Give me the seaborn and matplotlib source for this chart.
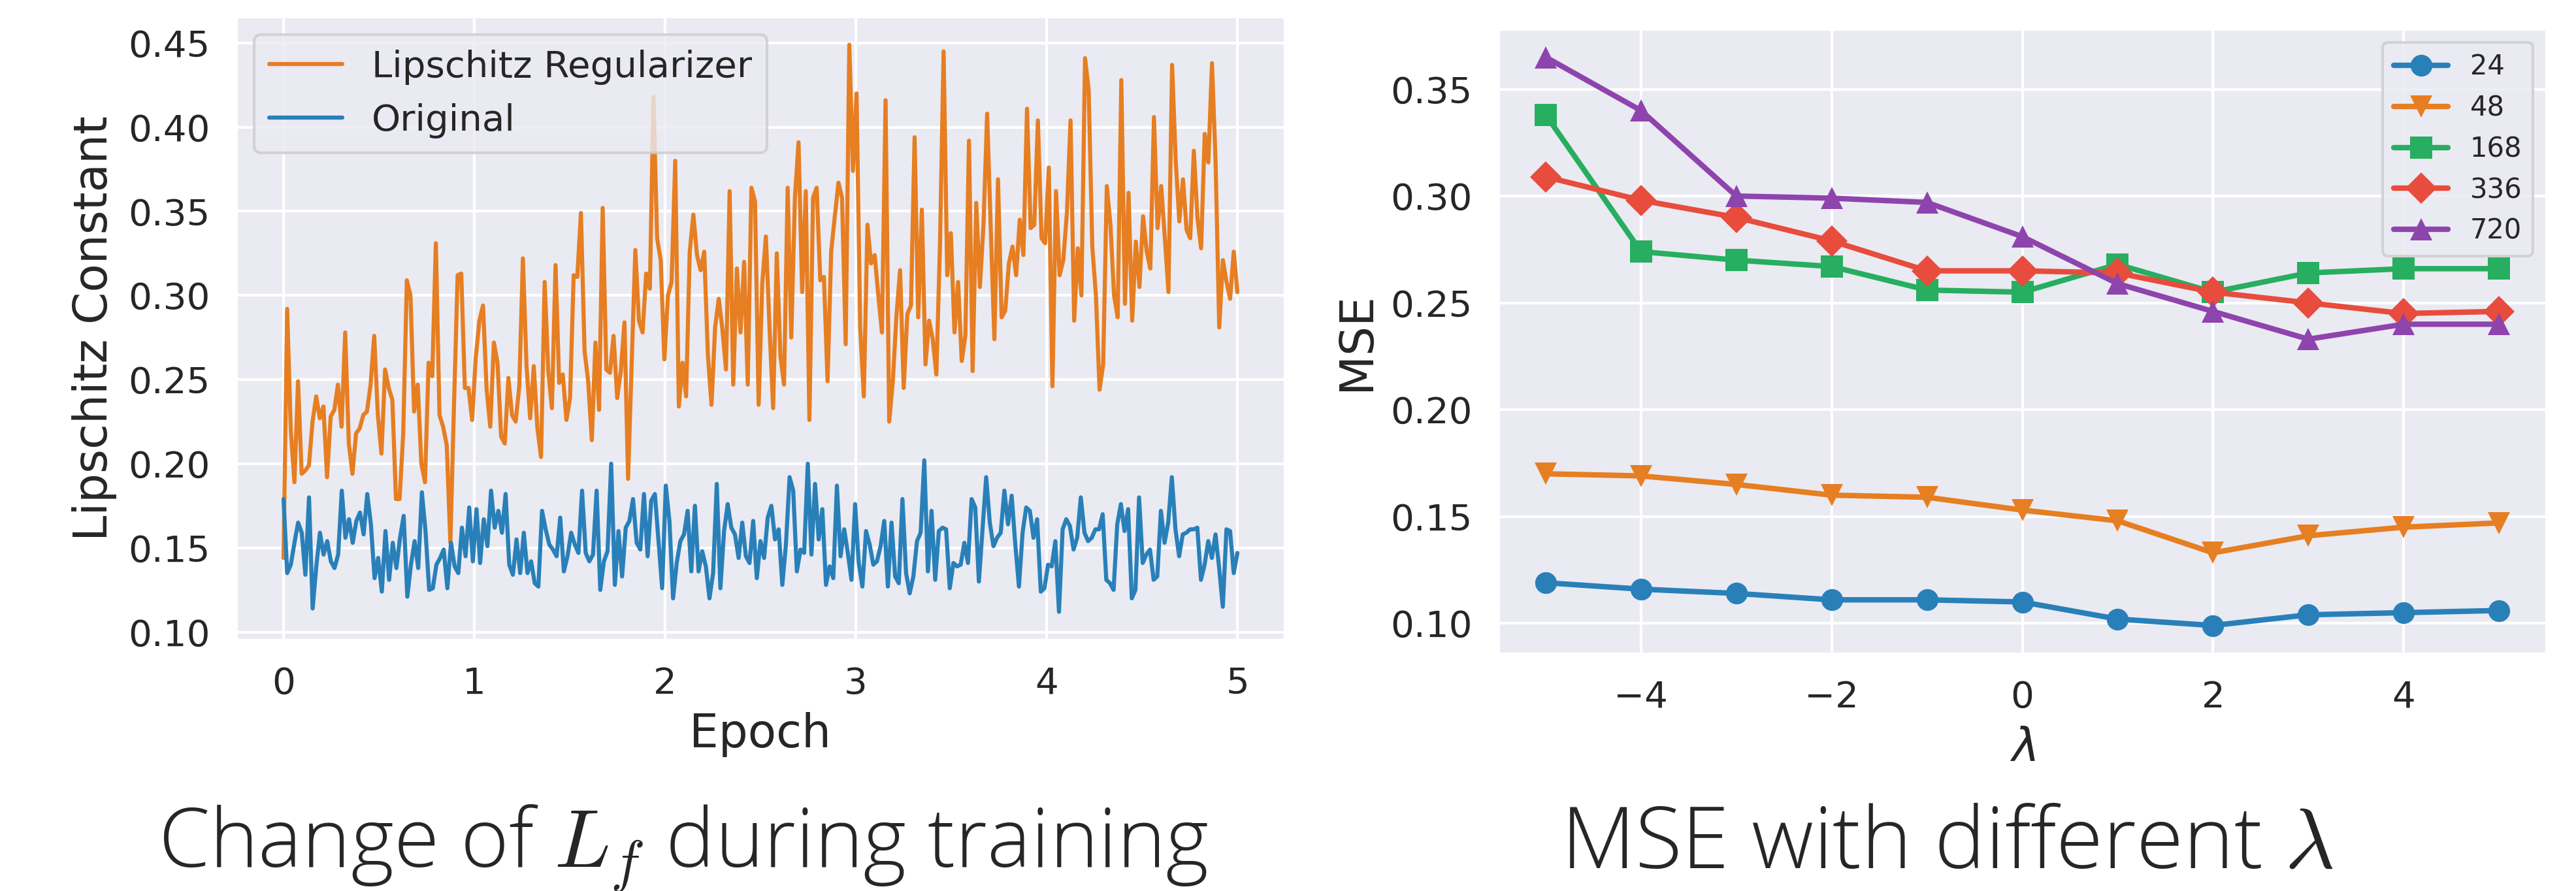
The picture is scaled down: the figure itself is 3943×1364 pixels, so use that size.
import numpy as np
import pandas as pd
import matplotlib
matplotlib.use("Agg")
import matplotlib.pyplot as plt
from matplotlib import font_manager
import seaborn as sns

# ---------------- data ----------------
lipschitz_reg = [
    0.144, 0.292, 0.220, 0.189, 0.249, 0.194, 0.196, 0.199, 0.225, 0.240,
    0.227, 0.234, 0.192, 0.228, 0.232, 0.247, 0.222, 0.278, 0.212, 0.194,
    0.218, 0.221, 0.229, 0.231, 0.247, 0.276, 0.229, 0.206, 0.256, 0.245,
    0.238, 0.179, 0.179, 0.218, 0.309, 0.300, 0.231, 0.247, 0.200, 0.189,
    0.260, 0.252, 0.331, 0.229, 0.222, 0.211, 0.153, 0.235, 0.312, 0.313,
    0.245, 0.245, 0.226, 0.263, 0.285, 0.294, 0.244, 0.222, 0.272, 0.260,
    0.216, 0.212, 0.251, 0.229, 0.225, 0.246, 0.322, 0.258, 0.227, 0.258,
    0.221, 0.204, 0.308, 0.255, 0.233, 0.318, 0.248, 0.253, 0.226, 0.239,
    0.312, 0.311, 0.349, 0.267, 0.249, 0.214, 0.272, 0.232, 0.352, 0.256,
    0.254, 0.276, 0.239, 0.255, 0.284, 0.191, 0.260, 0.327, 0.285, 0.278,
    0.313, 0.304, 0.418, 0.334, 0.321, 0.262, 0.300, 0.308, 0.380, 0.234,
    0.260, 0.240, 0.326, 0.348, 0.324, 0.315, 0.326, 0.265, 0.235, 0.281,
    0.298, 0.280, 0.256, 0.362, 0.247, 0.316, 0.278, 0.320, 0.247, 0.364,
    0.356, 0.235, 0.307, 0.335, 0.281, 0.233, 0.325, 0.264, 0.247, 0.364,
    0.275, 0.358, 0.391, 0.302, 0.362, 0.226, 0.358, 0.364, 0.309, 0.311,
    0.249, 0.326, 0.347, 0.367, 0.358, 0.271, 0.449, 0.374, 0.420, 0.281,
    0.240, 0.342, 0.319, 0.324, 0.300, 0.278, 0.416, 0.225, 0.249, 0.288,
    0.315, 0.245, 0.289, 0.294, 0.394, 0.287, 0.351, 0.259, 0.285, 0.274,
    0.253, 0.330, 0.445, 0.312, 0.337, 0.278, 0.308, 0.261, 0.276, 0.392,
    0.255, 0.355, 0.305, 0.342, 0.408, 0.340, 0.274, 0.369, 0.287, 0.291,
    0.319, 0.329, 0.312, 0.345, 0.324, 0.411, 0.340, 0.342, 0.404, 0.334,
    0.331, 0.376, 0.246, 0.362, 0.312, 0.321, 0.349, 0.404, 0.285, 0.328,
    0.300, 0.441, 0.422, 0.329, 0.300, 0.244, 0.259, 0.365, 0.342, 0.300,
    0.287, 0.428, 0.295, 0.361, 0.285, 0.332, 0.305, 0.347, 0.326, 0.316,
    0.406, 0.340, 0.365, 0.334, 0.302, 0.437, 0.380, 0.344, 0.369, 0.339,
    0.334, 0.386, 0.346, 0.328, 0.396, 0.379, 0.438, 0.379, 0.281, 0.321,
    0.308, 0.298, 0.326, 0.302,
]

original = [
    0.179, 0.135, 0.140, 0.153, 0.165, 0.159, 0.134, 0.180, 0.114, 0.139,
    0.159, 0.146, 0.154, 0.142, 0.138, 0.146, 0.184, 0.156, 0.167, 0.153,
    0.166, 0.171, 0.158, 0.182, 0.164, 0.132, 0.144, 0.124, 0.160, 0.131,
    0.153, 0.138, 0.156, 0.169, 0.121, 0.140, 0.154, 0.138, 0.183, 0.160,
    0.125, 0.126, 0.140, 0.144, 0.149, 0.126, 0.153, 0.139, 0.135, 0.162,
    0.145, 0.174, 0.142, 0.173, 0.141, 0.167, 0.151, 0.184, 0.162, 0.172,
    0.159, 0.182, 0.140, 0.134, 0.155, 0.135, 0.159, 0.135, 0.142, 0.129,
    0.127, 0.172, 0.161, 0.152, 0.149, 0.145, 0.168, 0.136, 0.145, 0.159,
    0.152, 0.147, 0.184, 0.147, 0.142, 0.146, 0.184, 0.125, 0.142, 0.148,
    0.200, 0.128, 0.160, 0.133, 0.162, 0.166, 0.179, 0.153, 0.149, 0.182,
    0.145, 0.178, 0.182, 0.154, 0.126, 0.187, 0.166, 0.120, 0.141, 0.154,
    0.158, 0.172, 0.136, 0.175, 0.136, 0.148, 0.139, 0.120, 0.135, 0.188,
    0.126, 0.160, 0.176, 0.162, 0.158, 0.144, 0.165, 0.145, 0.141, 0.166,
    0.132, 0.154, 0.144, 0.168, 0.175, 0.155, 0.161, 0.128, 0.152, 0.192,
    0.184, 0.136, 0.149, 0.147, 0.200, 0.146, 0.188, 0.155, 0.173, 0.128,
    0.139, 0.132, 0.187, 0.145, 0.161, 0.147, 0.131, 0.176, 0.141, 0.127,
    0.160, 0.152, 0.140, 0.142, 0.151, 0.166, 0.127, 0.165, 0.133, 0.129,
    0.179, 0.135, 0.123, 0.133, 0.154, 0.159, 0.202, 0.136, 0.172, 0.131,
    0.160, 0.162, 0.161, 0.126, 0.141, 0.139, 0.140, 0.153, 0.141, 0.179,
    0.174, 0.130, 0.161, 0.192, 0.165, 0.151, 0.156, 0.159, 0.184, 0.164,
    0.181, 0.152, 0.127, 0.159, 0.174, 0.172, 0.156, 0.167, 0.124, 0.126,
    0.140, 0.139, 0.154, 0.112, 0.161, 0.167, 0.163, 0.149, 0.156, 0.180,
    0.159, 0.154, 0.156, 0.161, 0.161, 0.170, 0.131, 0.129, 0.125, 0.164,
    0.176, 0.160, 0.173, 0.120, 0.125, 0.180, 0.141, 0.146, 0.149, 0.131,
    0.133, 0.172, 0.153, 0.165, 0.192, 0.161, 0.145, 0.158, 0.159, 0.161,
    0.161, 0.162, 0.131, 0.140, 0.154, 0.144, 0.158, 0.138, 0.115, 0.161,
    0.160, 0.135, 0.147,
]
n_epochs = 5
series_names = ["Lipschitz Regularizer", "Original"]

lambdas = [-5, -4, -3, -2, -1, 0, 1, 2, 3, 4, 5]
horizons = ["24", "48", "168", "336", "720"]
mse_24 = [0.119, 0.116, 0.114, 0.111, 0.111, 0.110, 0.102, 0.099, 0.104, 0.105, 0.106]
mse_48 = [0.170, 0.169, 0.165, 0.160, 0.159, 0.153, 0.148, 0.133, 0.141, 0.145, 0.147]
mse_168 = [0.338, 0.274, 0.270, 0.267, 0.256, 0.255, 0.268, 0.255, 0.264, 0.266, 0.266]
mse_336 = [0.309, 0.298, 0.290, 0.279, 0.265, 0.265, 0.264, 0.255, 0.250, 0.245, 0.246]
mse_720 = [0.365, 0.340, 0.300, 0.299, 0.297, 0.281, 0.259, 0.246, 0.233, 0.240, 0.240]

left_caption = r"Change of $L_f$ during training"
right_caption = r"MSE with different $\lambda$"

# ---------------- style ----------------
sns.set_theme(style="darkgrid")
plt.rcParams["font.family"] = ["DejaVu Sans"]

flat = {"blue": "#2980b9", "orange": "#e67e22", "green": "#27ae60",
        "red": "#e74c3c", "purple": "#8e44ad"}


def _num(v, table):
    if isinstance(v, (int, float)):
        return v
    return table.get(str(v).lower(), 400)


_WEIGHTS = {"ultralight": 200, "light": 300, "normal": 400, "regular": 400,
            "book": 400, "medium": 500}
_STRETCH = {"normal": 500, "semi-condensed": 400, "condensed": 300,
            "extra-condensed": 200, "ultra-condensed": 100}


def caption_font(size):
    """Pick a light, normal-width humanist sans for the captions."""
    chosen = None
    for pref in ["Open Sans", "Noto Sans", "Lato"]:
        cands = [f for f in font_manager.fontManager.ttflist
                 if f.name == pref and f.style == "normal"
                 and _num(f.stretch, _STRETCH) == 500
                 and "ondensed" not in f.fname]
        light = [f for f in cands if _num(f.weight, _WEIGHTS) < 400]
        if light:
            light.sort(key=lambda f: abs(_num(f.weight, _WEIGHTS) - 300))
            chosen = font_manager.FontProperties(fname=light[0].fname, size=size)
            break
    if chosen is None:
        chosen = font_manager.FontProperties(family=["Open Sans", "DejaVu Sans"],
                                             weight="light", stretch="normal",
                                             size=size)
    chosen.set_math_fontfamily("cm")
    return chosen


W, H, DPI = 3943, 1364, 300
fig = plt.figure(figsize=(W / DPI, H / DPI), dpi=DPI)


def frac_axes(x0, y0, x1, y1):
    return fig.add_axes([x0 / W, 1 - y1 / H, (x1 - x0) / W, (y1 - y0) / H])


# ---------------- left panel ----------------
ax1 = frac_axes(361, 25, 1967, 980)
df_left = pd.concat([
    pd.DataFrame({"epoch": np.linspace(0, n_epochs, len(lipschitz_reg)),
                  "value": lipschitz_reg, "series": series_names[0]}),
    pd.DataFrame({"epoch": np.linspace(0, n_epochs, len(original)),
                  "value": original, "series": series_names[1]}),
], ignore_index=True)
sns.lineplot(data=df_left, x="epoch", y="value", hue="series",
             hue_order=series_names,
             palette=[flat["orange"], flat["blue"]],
             linewidth=1.5, ax=ax1)
ax1.set_xlabel("Epoch", fontsize=17)
ax1.set_ylabel("Lipschitz Constant", fontsize=17)
ax1.set_xticks(range(0, 6))
ax1.set_yticks(np.arange(0.10, 0.451, 0.05))
ax1.yaxis.set_major_formatter(matplotlib.ticker.FormatStrFormatter("%.2f"))
ax1.tick_params(labelsize=13.5)
leg = ax1.get_legend()
handles = leg.legend_handles
labels = [t.get_text() for t in leg.get_texts()]
ax1.legend(handles, labels, loc="upper left", fontsize=13.5)

# ---------------- right panel ----------------
ax2 = frac_axes(2293, 44, 3898, 1001)
df_right = pd.concat([
    pd.DataFrame({"lam": lambdas, "mse": vals, "horizon": h})
    for h, vals in zip(horizons, [mse_24, mse_48, mse_168, mse_336, mse_720])
], ignore_index=True)
sns.lineplot(data=df_right, x="lam", y="mse", hue="horizon", style="horizon",
             hue_order=horizons, style_order=horizons,
             palette=[flat["blue"], flat["orange"], flat["green"], flat["red"], flat["purple"]],
             markers=["o", "v", "s", "D", "^"], dashes=False,
             linewidth=2, markersize=8, markeredgewidth=0, ax=ax2)
ax2.set_xlabel(r"$\lambda$", fontsize=17)
ax2.set_ylabel("MSE", fontsize=17)
ax2.set_xticks([-4, -2, 0, 2, 4])
ax2.set_yticks(np.arange(0.10, 0.351, 0.05))
ax2.yaxis.set_major_formatter(matplotlib.ticker.FormatStrFormatter("%.2f"))
ax2.tick_params(labelsize=13.5)
leg2 = ax2.get_legend()
handles2 = leg2.legend_handles
labels2 = [t.get_text() for t in leg2.get_texts()]
ax2.legend(handles2, labels2, loc="upper right", fontsize=10)

# ---------------- captions ----------------
for x, txt, size in [(1046, left_caption, 30.3), (2980, right_caption, 31.5)]:
    fig.text(x / W, 1 - 1328 / H, txt, ha="center", va="baseline",
             fontproperties=caption_font(size))

fig.savefig("out.png", dpi=DPI)
